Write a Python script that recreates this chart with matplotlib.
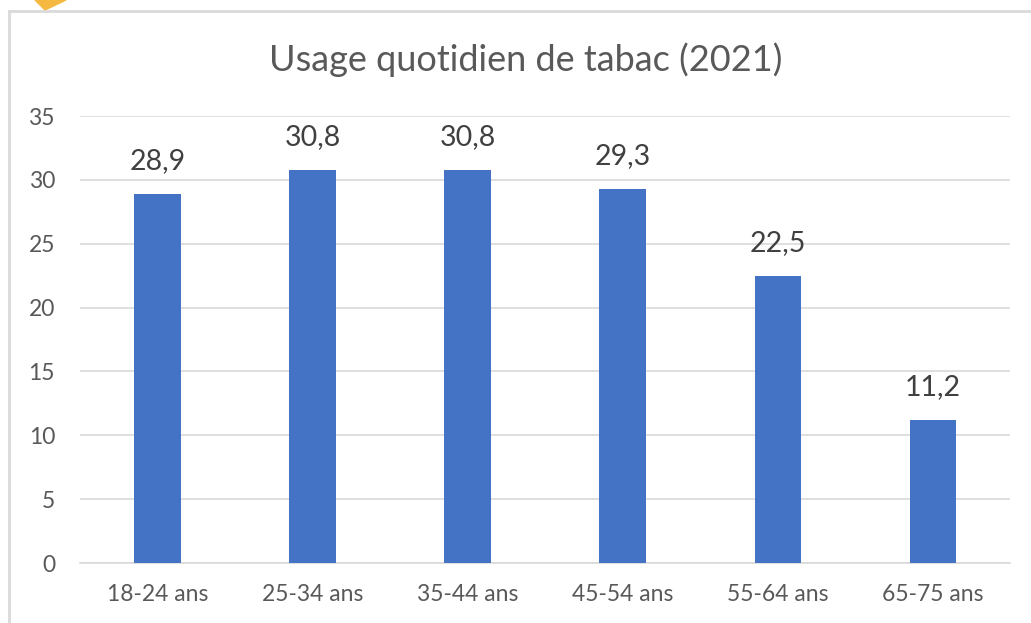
import matplotlib.pyplot as plt
from matplotlib.patches import Rectangle, Polygon

# data
categories = ["18-24 ans", "25-34 ans", "35-44 ans", "45-54 ans", "55-64 ans", "65-75 ans"]
values = [28.9, 30.8, 30.8, 29.3, 22.5, 11.2]
value_labels = ["28,9", "30,8", "30,8", "29,3", "22,5", "11,2"]

plt.rcParams['font.family'] = ['Lato', 'DejaVu Sans']

fig = plt.figure(figsize=(10.31, 6.23), dpi=100)
ax = fig.add_axes([0.0776, 0.0963, 0.9024, 0.7175])

x = range(len(categories))
ax.bar(x, values, width=0.30, color="#4472C4", zorder=3)

for i, (v, lab) in enumerate(zip(values, value_labels)):
    ax.annotate(lab, (i, v), xytext=(0, 14), textcoords="offset points",
                ha="center", va="bottom", fontsize=20.5, color="#404040")

ax.set_xlim(-0.5, len(categories) - 0.5)
ax.set_ylim(0, 35)
ax.set_yticks(range(0, 36, 5))
ax.set_xticks(list(x))
ax.set_xticklabels(categories)
ax.yaxis.grid(True, color="#d9d9d9", linewidth=1.2, zorder=0)
for s in ["top", "right", "left"]:
    ax.spines[s].set_visible(False)
ax.spines["bottom"].set_color("#d9d9d9")
ax.spines["bottom"].set_linewidth(1.2)
ax.tick_params(axis="both", length=0, labelsize=16.5, labelcolor="#595959")
ax.tick_params(axis="y", pad=18)
ax.tick_params(axis="x", pad=15)

fig.text(0.51, 0.905, "Usage quotidien de tabac (2021)", ha="center", va="center",
         fontsize=26, color="#595959")

# chart frame and the orange shape in the corner
fig.patches.append(Rectangle((9 / 1031, -0.05), 1.2, 1 - 11 / 623 + 0.05,
                             transform=fig.transFigure, fill=False,
                             edgecolor="#d9d9d9", linewidth=2))
fig.patches.append(Polygon([(35 / 1031, 1.0), (66 / 1031, 1.0), (45 / 1031, 1 - 10 / 623)],
                           closed=True, transform=fig.transFigure,
                           color="#F5B942", zorder=0))

fig.savefig("out.png", dpi=100)
